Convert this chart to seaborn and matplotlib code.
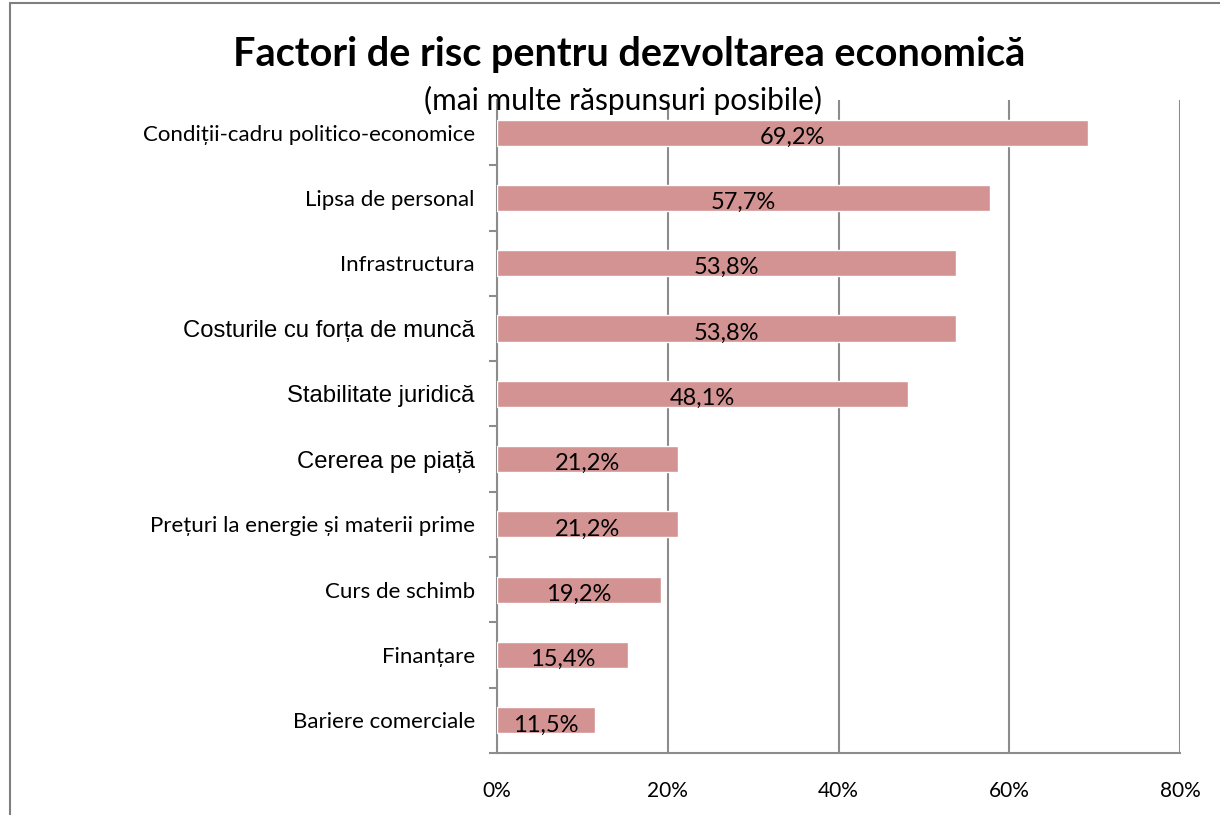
import matplotlib.pyplot as plt
import pandas as pd
import seaborn as sns
from matplotlib.lines import Line2D
from matplotlib.ticker import FixedLocator, PercentFormatter

CATEGORIES = [
    "Condiții-cadru politico-economice",
    "Lipsa de personal",
    "Infrastructura",
    "Costurile cu forța de muncă",
    "Stabilitate juridică",
    "Cererea pe piață",
    "Prețuri la energie și materii prime",
    "Curs de schimb",
    "Finanțare",
    "Bariere comerciale",
]
VALUES = [69.2, 57.7, 53.8, 53.8, 48.1, 21.2, 21.2, 19.2, 15.4, 11.5]
ARIAL_LABELS = {"Costurile cu forța de muncă", "Stabilitate juridică", "Cererea pe piață"}
X_TICKS = [0, 20, 40, 60, 80]

COLOR_BAR = "#d39392"
COLOR_GRID = "#8c8c8c"
FONT_MAIN = ["Lato", "DejaVu Sans"]
FONT_ARIAL = ["Liberation Sans", "DejaVu Sans"]

sns.set_theme(style="white")
plt.rcParams["font.family"] = FONT_MAIN
plt.rcParams["text.color"] = "black"

df = pd.DataFrame({"factor": CATEGORIES, "pct": VALUES})

fig = plt.figure(figsize=(12.2, 8.15), dpi=100, facecolor="white")
ax = fig.add_axes([0.4074, 0.0761, 0.5598, 0.8012])

sns.barplot(data=df, x="pct", y="factor", orient="h", color=COLOR_BAR,
            saturation=1, width=0.4, ax=ax, zorder=3)

ax.set_xlim(0, 80)
ax.set_xticks(X_TICKS)
ax.xaxis.set_major_formatter(PercentFormatter(decimals=0))
ax.grid(axis="x", color=COLOR_GRID, linewidth=1.5, zorder=0)
ax.grid(axis="y", visible=False)
ax.set_axisbelow(True)
ax.set_xlabel("")
ax.set_ylabel("")

for side in ["top", "right"]:
    ax.spines[side].set_visible(False)
for side in ["left", "bottom"]:
    ax.spines[side].set_color(COLOR_GRID)
    ax.spines[side].set_linewidth(1.5)

ax.tick_params(axis="x", which="major", direction="out", length=6, width=1.5,
               color=COLOR_GRID, labelsize=15, labelcolor="black", pad=14)
ax.tick_params(axis="y", which="major", length=0, labelsize=16, pad=16,
               labelcolor="black")
ax.yaxis.set_minor_locator(FixedLocator([i + 0.5 for i in range(len(CATEGORIES))]))
ax.tick_params(axis="y", which="minor", direction="out", length=6, width=1.5,
               color=COLOR_GRID, left=True)

for lbl in ax.get_yticklabels():
    if lbl.get_text() in ARIAL_LABELS:
        lbl.set_family(FONT_ARIAL)
        lbl.set_fontsize(17.2)

for i, v in enumerate(VALUES):
    ax.text(v / 2, i + 0.07, f"{v:.1f}%".replace(".", ","), ha="center",
            va="center", fontsize=17, color="black", zorder=4)

fig.text(0.516, 0.933, "Factori de risc pentru dezvoltarea economică",
         ha="center", va="center", fontsize=28.5, fontweight="bold",
         color="black")
fig.text(0.511, 0.877, "(mai multe răspunsuri posibile)", ha="center",
         va="center", fontsize=21.5, color="black")

fig.add_artist(Line2D([0.008, 0.008], [0, 0.996], transform=fig.transFigure,
                      color="#7f7f7f", linewidth=1.5))
fig.add_artist(Line2D([0.008, 1], [0.996, 0.996], transform=fig.transFigure,
                      color="#7f7f7f", linewidth=1.5))

fig.savefig("out.png", dpi=100, facecolor="white")
